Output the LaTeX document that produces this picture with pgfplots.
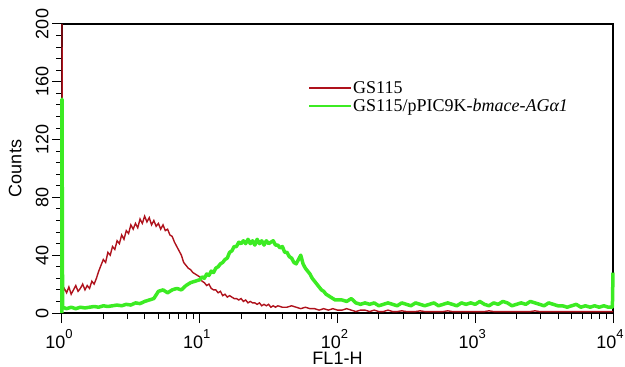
\documentclass[border=0pt]{standalone}
\usepackage{fontspec}
\setmainfont{Liberation Sans}
\newfontfamily\timesfont{Liberation Serif}
\usepackage{pgfplots}
\usepackage{pgfplotstable}
\pgfplotsset{compat=1.18}
\definecolor{redc}{RGB}{175,18,28}
\definecolor{greenc}{RGB}{60,235,35}
\newcommand\dec[1]{10\raisebox{0.55em}{\fontsize{13bp}{13bp}\selectfont #1}}

\pgfplotstableread{
x y
1 200
1.01 14
1.039 17
1.080 14
1.122 18
1.166 13
1.212 16
1.259 19
1.308 15
1.359 17
1.413 20
1.468 16
1.525 19
1.585 17
1.647 22
1.711 20
1.778 24
1.848 29
1.920 33
1.995 37
2.073 35
2.154 42
2.239 40
2.326 46
2.418 44
2.512 50
2.610 48
2.712 54
2.818 51
2.929 57
3.043 55
3.162 61
3.286 58
3.415 62
3.548 59
3.687 65
3.831 62
3.981 67
4.137 63
4.299 66
4.467 61
4.642 64
4.823 60
5.012 62
5.208 58
5.412 61
5.623 57
5.843 58
6.072 54
6.310 53
6.556 49
6.813 46
7.079 43
7.356 40
7.643 35
7.943 33
8.253 31
8.577 30
8.913 28
9.261 27
9.624 26
10.00 25
10.39 22
10.80 21
11.22 19
11.66 20
12.12 17
12.59 16
13.08 16
13.59 14
14.13 15
14.68 12
15.25 13
15.85 11
16.47 12
17.11 11
17.78 10
18.48 10
19.20 9
19.95 10
20.73 8
21.54 9
22.39 7
23.26 8
24.18 7
25.12 7
26.10 6
27.12 7
28.18 5
29.29 6
30.43 5
31.62 6
32.86 4
34.15 5
35.48 4
36.87 5
39.81 4
42.99 4
46.42 5
50.12 4
54.12 3
58.43 4
63.10 3
68.13 3
73.56 2
79.43 3
85.77 2
92.61 3
100.0 2
108.0 2
116.6 3
125.9 2
135.9 1
146.8 2
158.5 2
171.1 1
184.8 2
199.5 1
215.4 1
232.6 2
251.2 1
271.2 1
292.9 1.5
316.2 1
341.5 1
368.7 1
398.1 1.5
429.9 1
464.2 1
501.2 1
541.2 1
584.3 1
631.0 1.5
681.3 1
735.6 1
794.3 1
857.7 1
926.1 1
1000 1
1080 1
1166 1
1259 1.5
1359 1
1468 1
1585 1
1711 1
1848 1
1995 1
2154 1
2326 1
2512 1
2712 1.5
2929 1
3162 1
3415 1
3687 1
3981 1
4299 1
4642 1
5012 1
5412 1
5843 1
6310 1
6813 1
7356 1
7943 1
8577 1
9261 1
10000 1
}\redtable

\pgfplotstableread{
x y
1 0
1 148
1.01 4
1.080 3
1.166 4
1.259 3
1.359 4
1.468 3.5
1.585 4
1.711 4.5
1.848 4
1.995 5
2.154 4.5
2.326 5
2.512 5.5
2.712 5
2.929 6
3.162 5.5
3.415 7
3.687 6.5
3.981 8
4.299 9
4.642 10
5.012 15
5.412 16
5.843 14
6.310 16
6.813 17
7.356 16
7.943 19
8.577 21
9.261 22
10.00 23
10.39 25
10.80 24
11.22 27
11.66 26
12.12 29
12.59 28
13.08 31
13.59 32
14.13 34
14.68 35
15.25 37
15.85 38
16.47 42
17.11 43
17.78 46
18.48 46
19.20 49
19.95 48
20.73 50
21.54 48
22.39 51
23.26 48
24.18 50
25.12 47
26.10 51
27.12 48
28.18 50
29.29 47
30.43 50
31.62 48
32.86 49
34.15 50
35.48 47
36.87 47
38.31 45
39.81 46
41.37 42
42.99 42
44.67 39
46.42 38
48.23 35
50.12 34
52.08 37
54.12 40
56.23 34
58.43 31
60.72 29
63.10 27
65.56 24
68.13 22
70.79 20
73.56 18
76.43 16
79.43 15
82.53 13
85.77 12
89.13 11
92.61 10
96.24 9
100.0 9
108.0 9
116.6 8
125.9 10
135.9 7
146.8 6
158.5 7
171.1 6
184.8 7
199.5 5
215.4 6
232.6 7
251.2 6
271.2 5
292.9 7
316.2 6
341.5 5
368.7 7
398.1 6
429.9 5
464.2 6
501.2 7
541.2 5
584.3 6
631.0 7
681.3 6
735.6 5
794.3 7
857.7 6
926.1 7
1000 6
1080 8
1166 6
1259 5
1359 7
1468 6
1585 8
1711 7
1848 5
1995 6
2154 7
2326 6
2512 8
2712 7
2929 6
3162 5
3415 7
3687 6
3981 5
4299 5
4642 4
5012 5
5412 6
5843 4
6310 5
6813 4
7356 5
7943 4
8577 5
9261 4
9900 4
10000 28
}\greentable

\begin{document}
\begin{tikzpicture}
\useasboundingbox (-62bp,-54bp) rectangle (563bp,313bp);
\begin{axis}[
  at={(0,0)}, anchor=south west,
  scale only axis, width=551bp, height=289bp,
  xmode=log, xmin=1, xmax=10000,
  ymin=0, ymax=200,
  clip=false,
  xtick={1,10,100,1000,10000},
  xticklabels={\dec{0},\dec{1},\dec{2},\dec{3},\dec{4}},
  ytick={0,40,80,120,160,200},
  minor y tick num=4,
  tick align=outside, tick pos=left,
  major tick length=10bp, minor tick length=6bp,
  axis line style={line width=1.2bp, black},
  tick style={line width=1bp, black},
  /pgf/number format/assume math mode=true,
  tick label style={font=\fontsize{18bp}{18bp}\selectfont},
  xticklabel style={xshift=-3bp, yshift=-5bp, inner sep=1bp},
  yticklabel style={rotate=90, anchor=south},
  xlabel={FL1-H}, ylabel={Counts},
  every axis x label/.style={at={(axis description cs:0.5,0)}, anchor=north, yshift=-38bp,
    inner sep=1bp, font=\fontsize{18bp}{18bp}\selectfont},
  every axis y label/.style={at={(axis description cs:0,0.5)}, xshift=-37bp, rotate=90, anchor=south,
    font=\fontsize{18bp}{18bp}\selectfont},
  legend cell align=left,
  legend style={at={(rel axis cs:0.4465,0.806)}, anchor=north west, draw=none, fill=none,
    font=\timesfont\fontsize{18bp}{17bp}\selectfont, inner sep=0pt, row sep=2bp,
    nodes={inner sep=1bp}},
  legend image code/.code={\draw[#1, line width=2bp] (0bp,0bp) -- (42bp,0bp);},
]
\addplot[redc, line width=1.4bp] table[x=x, y=y] {\redtable};
\addlegendentry{GS115}
\addplot[greenc, line width=3.5bp, line join=round] table[x=x, y=y] {\greentable};
\addlegendentry{GS115/pPIC9K-\textit{bmace-AGα1}}
\end{axis}
\end{tikzpicture}
\end{document}
